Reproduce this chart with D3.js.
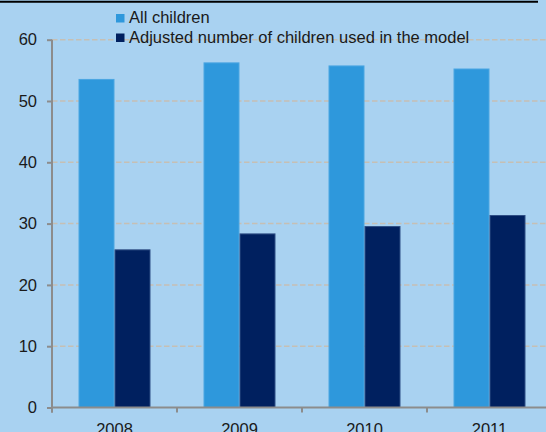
<!DOCTYPE html>
<html>
<head>
<meta charset="utf-8">
<script src="https://cdn.jsdelivr.net/npm/d3@7"></script>
<style>
  html, body { margin: 0; padding: 0; background: #a9d2f1; }
  svg { display: block; }
  text { font-family: "Liberation Sans", Arial, Helvetica, sans-serif; fill: #1a1a1a; }
</style>
</head>
<body>
<svg id="chart" width="546" height="432"></svg>
<script>
// Children counts by year (thousands)
const years = ["2008", "2009", "2010", "2011"];
const seriesNames = ["All children", "Adjusted number of children used in the model"];
const allChildren = [53.6, 56.3, 55.8, 55.3];
const adjustedChildren = [25.8, 28.4, 29.6, 31.4];
const yTicks = [0, 10, 20, 30, 40, 50, 60];
const colors = ["#2e98dc", "#00205f"];
const strokes = ["#4aa6e2", "#2f4f86"];

const svg = d3.select("#chart");
const W = 546, H = 432;

const plot = { left: 52, right: 552, top: 39.7, bottom: 407.5 };

const y = d3.scaleLinear().domain([0, 60]).range([plot.bottom, plot.top]);

// Category bands (axis ticks sit at their boundaries)
const xCat = d3.scaleBand().domain(years).range([plot.left, plot.right]).padding(0);
const xGroup = d3.scaleBand().domain(years).range([plot.left, plot.right])
  .paddingInner(0.424).paddingOuter(0.212);
const xSeries = d3.scaleBand().domain([0, 1]).range([0, xGroup.bandwidth()]);

// Top rule
svg.append("line")
  .attr("x1", 0).attr("x2", 538).attr("y1", 1.8).attr("y2", 1.8)
  .attr("stroke", "#000").attr("stroke-width", 2);

// Dashed gridlines
svg.append("g")
  .selectAll("line")
  .data(yTicks.filter(d => d > 0))
  .join("line")
  .attr("x1", plot.left).attr("x2", W)
  .attr("y1", d => y(d)).attr("y2", d => y(d))
  .attr("stroke", "#c6bfb4").attr("stroke-width", 1.5)
  .attr("stroke-dasharray", "5.5,2.5");

// Bars
const data = years.map((yr, i) => ({ yr, values: [allChildren[i], adjustedChildren[i]] }));
const groups = svg.append("g").selectAll("g")
  .data(data).join("g")
  .attr("transform", d => `translate(${xGroup(d.yr)},0)`);
groups.selectAll("rect")
  .data(d => d.values.map((v, s) => ({ v, s })))
  .join("rect")
  .attr("x", d => xSeries(d.s) + 0.5)
  .attr("width", xSeries.bandwidth() - 1)
  .attr("y", d => y(d.v) + 0.5)
  .attr("height", d => y(0) - y(d.v) - 0.5)
  .attr("fill", d => colors[d.s])
  .attr("stroke", d => strokes[d.s])
  .attr("stroke-width", 1);

// Y axis
const yAxis = svg.append("g")
  .attr("transform", `translate(${plot.left},0)`)
  .call(d3.axisLeft(y).tickValues(yTicks).tickSize(5).tickPadding(10));
yAxis.select(".domain").attr("stroke", "#8c8c8c").attr("stroke-width", 2)
  .attr("d", `M0,${plot.top}V${plot.bottom + 5}`);
yAxis.selectAll(".tick line").attr("stroke", "#8c8c8c").attr("stroke-width", 2);
yAxis.selectAll(".tick text").style("font-size", "16.5px").attr("fill", "#1a1a1a");

// X axis
const bounds = years.map(yr => xCat(yr));
const xAxis = svg.append("g")
  .attr("transform", `translate(0,${plot.bottom})`);
xAxis.append("line")
  .attr("x1", plot.left - 1).attr("x2", W)
  .attr("y1", 0).attr("y2", 0)
  .attr("stroke", "#8c8c8c").attr("stroke-width", 2);
xAxis.selectAll("line.tk")
  .data(bounds).join("line").attr("class", "tk")
  .attr("x1", d => d).attr("x2", d => d)
  .attr("y1", 0).attr("y2", 5)
  .attr("stroke", "#8c8c8c").attr("stroke-width", 2);
xAxis.selectAll("text")
  .data(years).join("text")
  .attr("x", d => xCat(d) + xCat.bandwidth() / 2)
  .attr("y", 27.5)
  .attr("text-anchor", "middle")
  .style("font-size", "16.5px")
  .text(d => d);

// Legend
const legend = svg.append("g").attr("transform", "translate(116,14)");
seriesNames.forEach((name, i) => {
  const g = legend.append("g").attr("transform", `translate(0,${i * 19.5})`);
  g.append("rect").attr("width", 8.5).attr("height", 8.5).attr("fill", colors[i]);
  g.append("text").attr("x", 13).attr("y", 9.3)
    .style("font-size", "16.5px").text(name);
});
</script>
</body>
</html>
